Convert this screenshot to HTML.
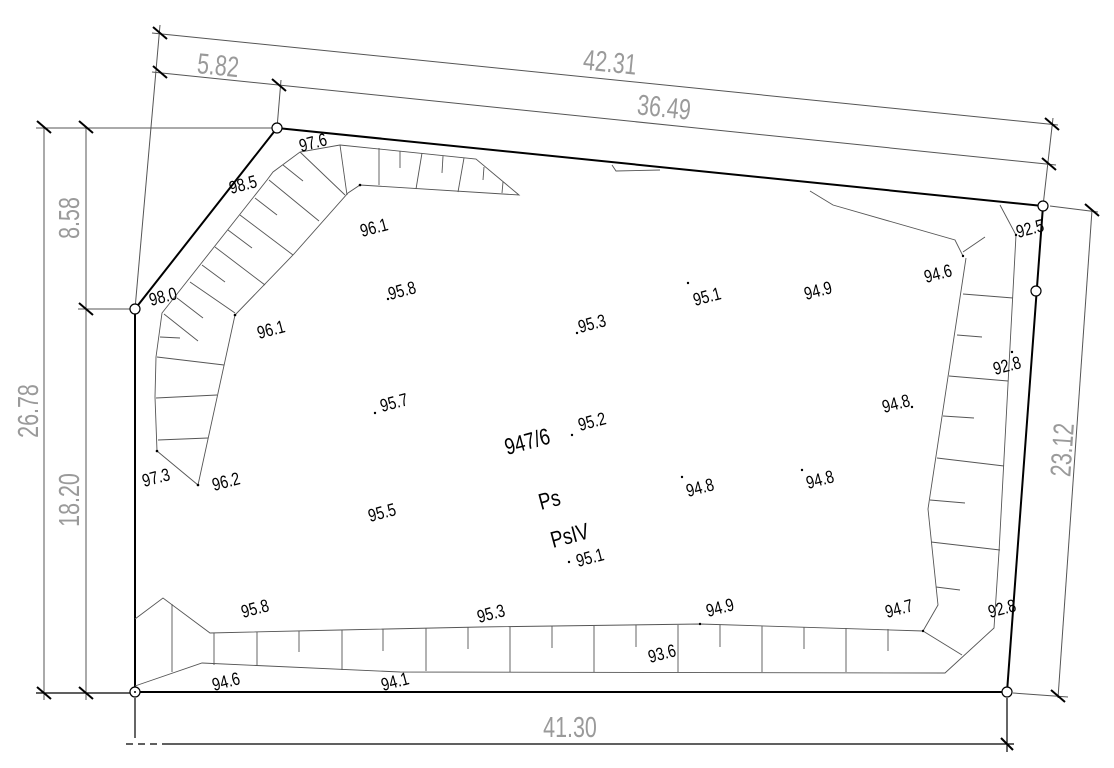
<!DOCTYPE html>
<html><head><meta charset="utf-8"><style>
html,body{margin:0;padding:0;background:#fff}
svg{display:block}
.d{font-family:"Liberation Sans",sans-serif;fill:#9a9a9a;font-size:29px}
.l{font-family:"Liberation Sans",sans-serif;fill:#000;font-size:18px}
.b{font-family:"Liberation Sans",sans-serif;fill:#000;font-size:23px}
</style></head><body>
<svg width="1114" height="768" viewBox="0 0 1114 768" xmlns="http://www.w3.org/2000/svg">
<g stroke="#555" stroke-width="1" fill="none">
<line x1="152" y1="33" x2="1058" y2="125"/>
<line x1="152" y1="72" x2="1056" y2="165"/>
<line x1="160" y1="25" x2="135" y2="309"/>
<line x1="281" y1="80" x2="277" y2="128"/>
<line x1="1053" y1="118" x2="1043" y2="206"/>
<line x1="44" y1="127" x2="44" y2="700"/>
<line x1="86" y1="127" x2="86" y2="700"/>
<line x1="36" y1="128" x2="277" y2="128"/>
<line x1="78" y1="309" x2="130" y2="309"/>
<line x1="1050" y1="206" x2="1098" y2="212"/>
<line x1="1013" y1="693" x2="1068" y2="697"/>
<line x1="1092" y1="210" x2="1058" y2="698"/>
</g>
<g stroke="#000" stroke-width="1.2">
<line x1="165" y1="744" x2="1014" y2="744"/>
<line x1="126" y1="744" x2="165" y2="744" stroke-dasharray="7,5"/>
<line x1="135" y1="698" x2="135" y2="738"/>
<line x1="1007" y1="698" x2="1007" y2="752"/>
<line x1="36" y1="693" x2="130" y2="693"/>
</g>
<g stroke="#000" stroke-width="2">
<line x1="153" y1="27" x2="167" y2="39"/>
<line x1="153" y1="66" x2="167" y2="78"/>
<line x1="272" y1="79" x2="286" y2="91"/>
<line x1="1045" y1="118" x2="1059" y2="130"/>
<line x1="1042" y1="158" x2="1056" y2="170"/>
<line x1="37" y1="121" x2="51" y2="133"/>
<line x1="79" y1="121" x2="93" y2="133"/>
<line x1="79" y1="303" x2="93" y2="315"/>
<line x1="37" y1="687" x2="51" y2="699"/>
<line x1="79" y1="687" x2="93" y2="699"/>
<line x1="1085" y1="204" x2="1099" y2="216"/>
<line x1="1051" y1="690" x2="1065" y2="702"/>
<line x1="1001" y1="738" x2="1013" y2="750"/>
</g>
<g stroke="#000" stroke-width="2" fill="none">
<polyline points="1007,692 135,692 135,309 277,128 1043,206 1007,692"/>
</g>
<g stroke="#555" stroke-width="0.9" fill="none">
<polyline points="157,451 155,397 156,357 162,313 267,180 273,172 300,152 340,145 476,159 519,195 360,185 348,193 293,255 235,315 198,485 157,451"/>
<line x1="340" y1="145" x2="347" y2="195"/>
<line x1="379" y1="148" x2="379" y2="185"/>
<line x1="400" y1="151" x2="400" y2="168"/>
<line x1="422" y1="153" x2="416" y2="189"/>
<line x1="443" y1="156" x2="442" y2="173"/>
<line x1="464" y1="158" x2="458" y2="192"/>
<line x1="484" y1="167" x2="483" y2="180"/>
<line x1="503" y1="182" x2="502" y2="193"/>
<line x1="300" y1="152" x2="345" y2="195"/>
<line x1="283" y1="165" x2="303" y2="181"/>
<line x1="269" y1="180" x2="319" y2="221"/>
<line x1="255" y1="198" x2="277" y2="215"/>
<line x1="240" y1="215" x2="293" y2="255"/>
<line x1="228" y1="230" x2="252" y2="248"/>
<line x1="215" y1="247" x2="265" y2="285"/>
<line x1="202" y1="265" x2="225" y2="282"/>
<line x1="190" y1="282" x2="235" y2="313"/>
<line x1="177" y1="298" x2="203" y2="318"/>
<line x1="164" y1="314" x2="198" y2="341"/>
<line x1="160" y1="337" x2="180" y2="338"/>
<line x1="157" y1="357" x2="224" y2="365"/>
<line x1="156" y1="398" x2="217" y2="395"/>
<line x1="158" y1="440" x2="208" y2="438"/>
<polyline points="612,165 616,171 660,170"/>
<polyline points="810,191 833,205 955,240 963,256"/>
<line x1="963" y1="252" x2="985" y2="237"/>
<polyline points="1000,205 1016,235 999,552 994,628 945,673 400,672 202,663 135,686"/>
<polyline points="966,258 928,509 938,605 923,631 700,624 480,627 340,630 210,633 163,598 135,619"/>
<line x1="923" y1="631" x2="962" y2="655"/>
<line x1="963" y1="294" x2="1013" y2="298"/>
<line x1="957" y1="335" x2="982" y2="337"/>
<line x1="949" y1="376" x2="1008" y2="381"/>
<line x1="943" y1="416" x2="974" y2="418"/>
<line x1="937" y1="458" x2="1004" y2="466"/>
<line x1="930" y1="500" x2="965" y2="503"/>
<line x1="931" y1="542" x2="1000" y2="550"/>
<line x1="936" y1="587" x2="960" y2="590"/>
<line x1="172" y1="604" x2="172" y2="672"/>
<line x1="214" y1="633" x2="214" y2="665"/>
<line x1="257" y1="632" x2="257" y2="666"/>
<line x1="299" y1="631" x2="299" y2="652"/>
<line x1="342" y1="630" x2="342" y2="670"/>
<line x1="383" y1="629" x2="383" y2="651"/>
<line x1="426" y1="628" x2="426" y2="671"/>
<line x1="468" y1="627" x2="468" y2="649"/>
<line x1="510" y1="627" x2="510" y2="672"/>
<line x1="552" y1="626" x2="552" y2="648"/>
<line x1="594" y1="626" x2="594" y2="672"/>
<line x1="636" y1="625" x2="636" y2="647"/>
<line x1="678" y1="625" x2="678" y2="672"/>
<line x1="720" y1="625" x2="720" y2="647"/>
<line x1="762" y1="626" x2="762" y2="672"/>
<line x1="804" y1="627" x2="804" y2="649"/>
<line x1="846" y1="628" x2="846" y2="672"/>
<line x1="888" y1="629" x2="888" y2="651"/>
</g>
<g stroke="#000" stroke-width="1.2" fill="#fff">
<circle cx="277" cy="128" r="5"/>
<circle cx="135" cy="309" r="5"/>
<circle cx="1043" cy="206" r="5"/>
<circle cx="1036" cy="291" r="5"/>
<circle cx="1007" cy="692" r="5"/>
<circle cx="135" cy="692" r="5"/>
</g>
<circle cx="135" cy="692" r="1" fill="#000"/>
<g fill="#000">
<circle cx="360" cy="185" r="1.3"/><circle cx="235" cy="315" r="1.3"/><circle cx="157" cy="451" r="1.3"/><circle cx="198" cy="485" r="1.3"/>
<circle cx="388" cy="299" r="1.2"/><circle cx="375" cy="413" r="1.2"/><circle cx="572" cy="435" r="1.2"/><circle cx="577" cy="333" r="1.2"/>
<circle cx="688" cy="283" r="1.2"/><circle cx="682" cy="477" r="1.2"/><circle cx="802" cy="470" r="1.2"/><circle cx="569" cy="562" r="1.2"/>
<circle cx="963" cy="256" r="1.2"/><circle cx="1016" cy="235" r="1.2"/><circle cx="1012" cy="352" r="1.2"/><circle cx="700" cy="624" r="1.2"/><circle cx="923" cy="631" r="1.2"/><circle cx="912" cy="407" r="1.2"/>
</g>
<g class="d">
<text transform="translate(610,63) rotate(5.8) scale(0.74,1)" text-anchor="middle" dominant-baseline="central">42.31</text>
<text transform="translate(664,108) rotate(5.8) scale(0.74,1)" text-anchor="middle" dominant-baseline="central">36.49</text>
<text transform="translate(218,66) rotate(5.8) scale(0.74,1)" text-anchor="middle" dominant-baseline="central">5.82</text>
<text transform="translate(29,411) rotate(-90) scale(0.74,1)" text-anchor="middle" dominant-baseline="central">26.78</text>
<text transform="translate(70,218) rotate(-90) scale(0.74,1)" text-anchor="middle" dominant-baseline="central">8.58</text>
<text transform="translate(70,500) rotate(-90) scale(0.74,1)" text-anchor="middle" dominant-baseline="central">18.20</text>
<text transform="translate(1063,450) rotate(-86) scale(0.74,1)" text-anchor="middle" dominant-baseline="central">23.12</text>
<text transform="translate(570,728) scale(0.74,1)" text-anchor="middle" dominant-baseline="central">41.30</text>
</g>
<g class="l">
<text transform="translate(301,152) rotate(-15) scale(0.8,1)">97.6</text>
<text transform="translate(231,194) rotate(-15) scale(0.8,1)">98.5</text>
<text transform="translate(151,306) rotate(-15) scale(0.8,1)">98.0</text>
<text transform="translate(362,237) rotate(-15) scale(0.8,1)">96.1</text>
<text transform="translate(390,300) rotate(-15) scale(0.8,1)">95.8</text>
<text transform="translate(259,339) rotate(-15) scale(0.8,1)">96.1</text>
<text transform="translate(382,412) rotate(-15) scale(0.8,1)">95.7</text>
<text transform="translate(144,487) rotate(-15) scale(0.8,1)">97.3</text>
<text transform="translate(214,491) rotate(-15) scale(0.8,1)">96.2</text>
<text transform="translate(370,522) rotate(-15) scale(0.8,1)">95.5</text>
<text transform="translate(580,431) rotate(-15) scale(0.8,1)">95.2</text>
<text transform="translate(580,333) rotate(-15) scale(0.8,1)">95.3</text>
<text transform="translate(695,306) rotate(-15) scale(0.8,1)">95.1</text>
<text transform="translate(806,300) rotate(-15) scale(0.8,1)">94.9</text>
<text transform="translate(926,283) rotate(-15) scale(0.8,1)">94.6</text>
<text transform="translate(1018,238) rotate(-15) scale(0.8,1)">92.5</text>
<text transform="translate(995,375) rotate(-15) scale(0.8,1)">92.8</text>
<text transform="translate(884,413) rotate(-15) scale(0.8,1)">94.8</text>
<text transform="translate(688,497) rotate(-15) scale(0.8,1)">94.8</text>
<text transform="translate(808,489) rotate(-15) scale(0.8,1)">94.8</text>
<text transform="translate(578,567) rotate(-15) scale(0.8,1)">95.1</text>
<text transform="translate(243,618) rotate(-15) scale(0.8,1)">95.8</text>
<text transform="translate(479,623) rotate(-15) scale(0.8,1)">95.3</text>
<text transform="translate(708,617) rotate(-15) scale(0.8,1)">94.9</text>
<text transform="translate(887,618) rotate(-15) scale(0.8,1)">94.7</text>
<text transform="translate(990,618) rotate(-15) scale(0.8,1)">92.8</text>
<text transform="translate(650,663) rotate(-15) scale(0.8,1)">93.6</text>
<text transform="translate(214,691) rotate(-15) scale(0.8,1)">94.6</text>
<text transform="translate(383,691) rotate(-15) scale(0.8,1)">94.1</text>
</g>
<g class="b">
<text transform="translate(507,455) rotate(-15) scale(0.8,1)">947/6</text>
<text transform="translate(541,510) rotate(-15) scale(0.8,1)">Ps</text>
<text transform="translate(553,548) rotate(-15) scale(0.8,1)">PsIV</text>
</g>
</svg>
</body></html>
